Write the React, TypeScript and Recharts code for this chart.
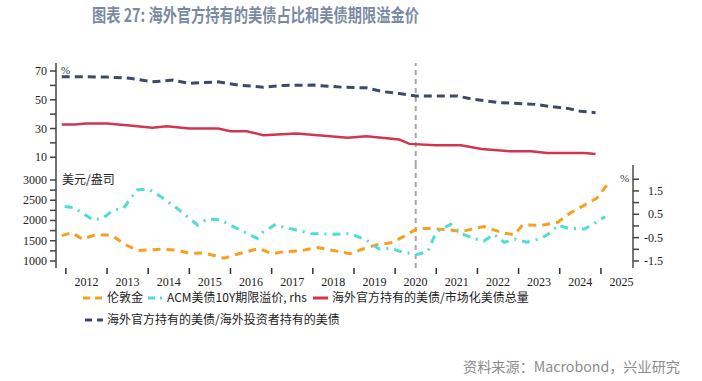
import React from 'react';
import { LineChart, Line, XAxis, YAxis, ReferenceLine } from 'recharts';

// x positions are fractional years
const years = [2012, 2013, 2014, 2015, 2016, 2017, 2018, 2019, 2020, 2021, 2022, 2023, 2024, 2025];

// 海外官方持有的美债/海外投资者持有的美债 (%)
const foreignShareDates = [2011.9, 2012.5, 2013.0, 2013.55, 2014.1, 2014.6, 2015.0, 2015.7, 2016.2, 2016.8, 2017.3, 2018.0, 2018.7, 2019.3, 2019.7, 2020.1, 2020.5, 2021.5, 2021.9, 2022.55, 2023.4, 2023.8, 2024.2, 2024.5, 2024.87];
const foreignShare = [66, 66, 65.8, 65, 62.5, 63.7, 61.4, 62.5, 60.2, 58.8, 60, 60.2, 58.8, 58.3, 55.7, 54.3, 52.7, 52.7, 50.3, 48, 46.8, 45.2, 44, 42, 41];

// 海外官方持有的美债/市场化美债总量 (%)
const marketShareDates = [2011.9, 2012.2, 2012.5, 2013.0, 2013.55, 2014.1, 2014.45, 2015.0, 2015.7, 2016.0, 2016.4, 2016.8, 2017.6, 2018.2, 2018.85, 2019.3, 2020.1, 2020.35, 2021.0, 2021.6, 2022.1, 2022.8, 2023.3, 2023.7, 2024.6, 2024.87];
const marketShare = [32.8, 32.8, 33.5, 33.5, 32.1, 30.5, 31.6, 30, 30, 28.1, 28.1, 25.3, 26.5, 25.1, 23.5, 24.6, 22.3, 19.3, 18.3, 18.3, 15.8, 14.1, 14.1, 13, 13, 12.3];

// 伦敦金 (美元/盎司)
const goldDates = [2011.9, 2012.15, 2012.4, 2012.7, 2013.1, 2013.45, 2013.75, 2014.35, 2014.7, 2015.0, 2015.35, 2015.85, 2016.2, 2016.7, 2017.0, 2017.3, 2017.7, 2018.1, 2018.5, 2018.9, 2019.2, 2019.55, 2019.9, 2020.2, 2020.55, 2020.85, 2021.35, 2021.6, 2022.15, 2022.65, 2022.9, 2023.1, 2023.55, 2023.95, 2024.25, 2024.6, 2024.9, 2025.15];
const gold = [1625, 1700, 1540, 1640, 1640, 1400, 1260, 1290, 1270, 1190, 1200, 1070, 1180, 1310, 1180, 1230, 1250, 1335, 1260, 1180, 1290, 1400, 1450, 1600, 1805, 1805, 1765, 1725, 1850, 1685, 1650, 1890, 1880, 1955, 2180, 2380, 2550, 2880];

// ACM美债10Y期限溢价 (%, rhs)
const acmDates = [2011.97, 2012.2, 2012.66, 2012.9, 2013.15, 2013.4, 2013.73, 2014.0, 2014.3, 2014.7, 2015.2, 2015.43, 2015.75, 2016.07, 2016.65, 2016.8, 2017.1, 2017.3, 2017.6, 2017.95, 2018.5, 2018.9, 2019.3, 2019.6, 2019.9, 2020.2, 2020.55, 2020.8, 2021.0, 2021.35, 2021.6, 2021.9, 2022.15, 2022.4, 2022.65, 2022.9, 2023.2, 2023.55, 2023.8, 2023.95, 2024.2, 2024.6, 2024.8, 2025.1];
const acm = [0.83, 0.78, 0.26, 0.33, 0.68, 0.76, 1.54, 1.59, 1.26, 0.76, 0.04, 0.3, 0.26, -0.03, -0.53, -0.25, 0.07, -0.06, -0.17, -0.32, -0.36, -0.32, -0.6, -0.98, -0.96, -1.13, -1.22, -1.08, -0.25, 0.07, -0.32, -0.53, -0.65, -0.36, -0.7, -0.56, -0.7, -0.53, -0.25, 0.04, -0.1, -0.13, 0.07, 0.4];

const topTicks = [10, 20, 30, 40, 50, 60, 70];
const topLabels = [10, 30, 50, 70];
const leftTicks = [1000, 1250, 1500, 1750, 2000, 2250, 2500, 2750, 3000];
const leftLabels = [1000, 1500, 2000, 2500, 3000];
const rightTicks = [-1.5, -1, -0.5, 0, 0.5, 1, 1.5, 2];
const rightLabels = [-1.5, -0.5, 0.5, 1.5];

const seriesNames = [
  '伦敦金',
  'ACM美债10Y期限溢价, rhs',
  '海外官方持有的美债/市场化美债总量',
  '海外官方持有的美债/海外投资者持有的美债',
];

const NAVY = '#3c4a68';
const RED = '#d0374f';
const ORANGE = '#f5a11f';
const TEAL = '#4edcd5';
const AXIS = '#444';

const zip = (ts: number[], vs: number[]) => ts.map((t, i) => ({ t, v: vs[i] }));

const XDOM: [number, number] = [2011.76, 2025.78];
const serif = '"Liberation Serif", "Times New Roman", serif';
const cjk = '"Noto Sans CJK SC", sans-serif';

const LeftTick = (labels: number[]) => (props: any) => {
  const { x, y, payload } = props;
  if (!labels.includes(payload.value)) return <g />;
  return (
    <text x={x} y={y} dy={4} textAnchor="end" fontSize={12} fontFamily={serif} fill="#222">
      {payload.value}
    </text>
  );
};

const RightTick = (props: any) => {
  const { x, y, payload } = props;
  if (!rightLabels.includes(payload.value)) return <g />;
  return (
    <text x={x + 22} y={y} dy={4} textAnchor="end" fontSize={12} fontFamily={serif} fill="#222">
      {payload.value}
    </text>
  );
};

const YearTick = (props: any) => {
  const { x, y, payload } = props;
  return (
    <text x={x + 20.5} y={y} dy={9} textAnchor="middle" fontSize={12} fontFamily={serif} fill="#222">
      {payload.value}
    </text>
  );
};

export default function App() {
  return (
    <div style={{ position: 'absolute', left: 0, top: 0, width: 702, height: 381, background: '#fff' }}>
      <LineChart width={702} height={170} margin={{ top: 63, right: 69, bottom: 5, left: 0 }} style={{ position: 'absolute', left: 0, top: 0 }}>
        <XAxis type="number" dataKey="t" domain={XDOM} allowDataOverflow ticks={years} tick={false} tickLine={false} height={0} axisLine={{ stroke: '#8c8c8c', strokeWidth: 2 }} />
        <YAxis type="number" domain={[4.6, 75.6]} allowDataOverflow ticks={topTicks} interval={0} width={56} tickSize={6} tickMargin={3} tick={LeftTick(topLabels)} axisLine={{ stroke: AXIS, strokeWidth: 1.5 }} tickLine={{ stroke: AXIS, strokeWidth: 1.5 }} />
        <ReferenceLine x={2020.5} stroke="#a6a6a6" strokeWidth={2} strokeDasharray="5 4" />
        <Line data={zip(foreignShareDates, foreignShare)} dataKey="v" type="linear" stroke={NAVY} strokeWidth={3} strokeDasharray="8 5" dot={false} isAnimationActive={false} />
        <Line data={zip(marketShareDates, marketShare)} dataKey="v" type="linear" stroke={RED} strokeWidth={2.5} dot={false} isAnimationActive={false} />
      </LineChart>

      <LineChart width={702} height={300} margin={{ top: 165, right: 0, bottom: 0, left: 0 }} style={{ position: 'absolute', left: 0, top: 0 }}>
        <XAxis type="number" dataKey="t" domain={XDOM} allowDataOverflow ticks={years} interval={0} height={32} tickSize={6} tickMargin={3} tick={YearTick} axisLine={false} tickLine={{ stroke: '#333', strokeWidth: 1.5 }} />
        <YAxis yAxisId="l" type="number" domain={[827, 3370]} allowDataOverflow ticks={leftTicks} interval={0} width={56} tickSize={6} tickMargin={3} tick={LeftTick(leftLabels)} axisLine={{ stroke: AXIS, strokeWidth: 1.5 }} tickLine={{ stroke: AXIS, strokeWidth: 1.5 }} />
        <YAxis yAxisId="r" orientation="right" type="number" domain={[-1.8, 2.61]} allowDataOverflow ticks={rightTicks} interval={0} width={69} tickSize={6} tickMargin={2} tick={RightTick} axisLine={{ stroke: '#777', strokeWidth: 2 }} tickLine={{ stroke: AXIS, strokeWidth: 1.5 }} />
        <ReferenceLine yAxisId="l" x={2020.5} stroke="#a6a6a6" strokeWidth={2} strokeDasharray="5 4" />
        <Line yAxisId="l" data={zip(goldDates, gold)} dataKey="v" type="linear" stroke={ORANGE} strokeWidth={3} strokeDasharray="8 6" dot={false} isAnimationActive={false} />
        <Line yAxisId="r" data={zip(acmDates, acm)} dataKey="v" type="linear" stroke={TEAL} strokeWidth={3} strokeDasharray="8 6 2 6" dot={false} isAnimationActive={false} />
      </LineChart>

      <svg width={702} height={381} style={{ position: 'absolute', left: 0, top: 0, pointerEvents: 'none' }}>
        <text x={92} y={22} fontSize={18} fontWeight="bold" fontFamily={cjk} fill="#7b8aa3" textLength={327} lengthAdjust="spacingAndGlyphs">
          图表 27: 海外官方持有的美债占比和美债期限溢金价
        </text>
        <text x={61} y={74} fontSize={11} fontFamily={serif} fill="#334">%</text>
        <text x={62} y={184} fontSize={12} fontFamily={cjk} fill="#222">美元/盎司</text>
        <text x={620} y={182} fontSize={11} fontFamily={serif} fill="#334">%</text>

        <g fontSize={12} fontFamily={cjk} fill="#222">
          <line x1={83} x2={103} y1={298} y2={298} stroke={ORANGE} strokeWidth={3} strokeDasharray="7 5" />
          <text x={107} y={302}>{seriesNames[0]}</text>
          <line x1={148} x2={163} y1={298} y2={298} stroke={TEAL} strokeWidth={3} strokeDasharray="7 5 2 5" />
          <text x={167} y={302}>{seriesNames[1]}</text>
          <line x1={313} x2={328} y1={298} y2={298} stroke={RED} strokeWidth={3} />
          <text x={332} y={302}>{seriesNames[2]}</text>
          <line x1={85} x2={103} y1={320} y2={320} stroke={NAVY} strokeWidth={3} strokeDasharray="7 5" />
          <text x={107} y={324}>{seriesNames[3]}</text>
        </g>

        <text x={463} y={372} fontSize={14} fontFamily={cjk} fill="#8c8c8c" textLength={217} lengthAdjust="spacingAndGlyphs">
          资料来源：Macrobond，兴业研究
        </text>
      </svg>
    </div>
  );
}
